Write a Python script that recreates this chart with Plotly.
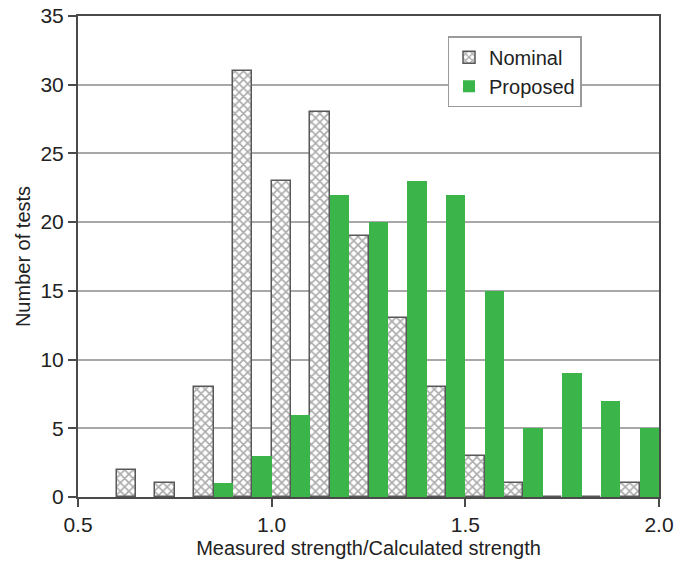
import plotly.graph_objects as go

# Histogram bins of the strength ratio (bin start values, width 0.1)
bin_starts = [0.6, 0.7, 0.8, 0.9, 1.0, 1.1, 1.2, 1.3, 1.4, 1.5, 1.6, 1.7, 1.8, 1.9]
nominal = [2, 1, 8, 31, 23, 28, 19, 13, 8, 3, 1, 0, 0, 1]
proposed = [0, 0, 1, 3, 6, 22, 20, 23, 22, 15, 5, 9, 7, 5]

bin_width = 0.1
centers = [round(b + bin_width / 2, 3) for b in bin_starts]

FONT = "Liberation Sans, Arial, sans-serif"
AXIS_COLOR = "#4a4a4a"
GRID_COLOR = "#a8a8a8"
GREEN = "#3bb54a"
TEXT = "#222222"

fig = go.Figure()
fig.add_trace(go.Bar(
    x=centers, y=nominal, name="Nominal",
    marker=dict(
        color="white",
        line=dict(color="#585858", width=1.5),
        pattern=dict(shape="x", fgcolor="#555555", bgcolor="white",
                     size=6, solidity=0.45),
    ),
))
fig.add_trace(go.Bar(
    x=centers, y=proposed, name="Proposed",
    marker=dict(color=GREEN, line=dict(width=0)),
))

fig.update_layout(
    width=674, height=571,
    margin=dict(l=78, r=15, t=16, b=74),
    barmode="group", bargap=0, bargroupgap=0,
    plot_bgcolor="white", paper_bgcolor="white",
    font=dict(family=FONT, size=20, color=TEXT),
    legend=dict(
        x=0.636, y=0.958, xanchor="left", yanchor="top",
        bgcolor="white", bordercolor="#9a9a9a", borderwidth=1.5,
        font=dict(size=20, family=FONT, color=TEXT),
        itemwidth=30, tracegroupgap=2,
    ),
    xaxis=dict(
        range=[0.5, 2.0], tickmode="array",
        tickvals=[0.5, 1.0, 1.5, 2.0], ticktext=["0.5", "1.0", "1.5", "2.0"],
        ticks="outside", ticklen=8, tickwidth=2, tickcolor=AXIS_COLOR,
        showline=True, linecolor=AXIS_COLOR, linewidth=2, mirror=True,
        showgrid=False, zeroline=False, automargin=False,
        ticklabeloverflow="allow",
        title=dict(text="Measured strength/Calculated strength",
                   font=dict(size=20), standoff=6),
        tickfont=dict(size=21),
    ),
    yaxis=dict(
        range=[0, 35], tickmode="linear", tick0=0, dtick=5,
        ticks="outside", ticklen=8, tickwidth=2, tickcolor=AXIS_COLOR,
        showline=True, linecolor=AXIS_COLOR, linewidth=2, mirror=True,
        showgrid=True, gridcolor=GRID_COLOR, gridwidth=1.5,
        zeroline=False, automargin=False,
        ticklabeloverflow="allow",
        title=dict(text="Number of tests", font=dict(size=20), standoff=4),
        tickfont=dict(size=21),
    ),
)

fig.write_html("out.html")
